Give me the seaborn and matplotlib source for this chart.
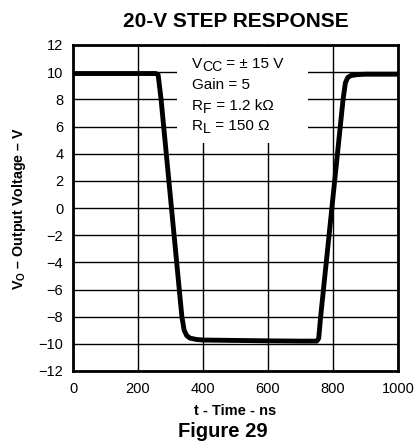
import numpy as np
import pandas as pd
import seaborn as sns
import matplotlib
matplotlib.use("Agg")
import matplotlib.pyplot as plt
from matplotlib.patches import Rectangle
from matplotlib.font_manager import FontProperties

# Data
time_ns = [0, 255, 262, 271, 335, 342, 350, 360, 380, 400, 500, 600, 700, 750,
           756, 762, 831, 838, 845, 855, 875, 900, 1000]
vout = [9.9, 9.9, 9.8, 8.0, -8.0, -9.0, -9.4, -9.58, -9.68, -9.72, -9.75, -9.78,
        -9.8, -9.8, -9.6, -8.0, 8.0, 9.2, 9.6, 9.75, 9.82, 9.85, 9.85]
x_ticks = [0, 200, 400, 600, 800, 1000]
y_ticks = [12, 10, 8, 6, 4, 2, 0, -2, -4, -6, -8, -10, -12]
y_tick_labels = ["12", "10", "8", "6", "4", "2", "0", "\u22122", "\u22124", "\u22126",
                 "\u22128", "\u221210", "\u221212"]
title = "20-V STEP RESPONSE"
xlabel = "t - Time - ns"
ylabel = "$\\mathbf{V_O}$ \u2013 Output Voltage \u2013 V"
caption = "Figure 29"
annot_rows = [
    [("V", False), ("CC", True), (" = \u00b1 15 V", False)],
    [("Gain = 5", False)],
    [("R", False), ("F", True), (" = 1.2 k\u03a9", False)],
    [("R", False), ("L", True), (" = 150 \u03a9", False)],
]

sns.set_theme(style="white")
plt.rcParams['font.family'] = ['Liberation Sans', 'DejaVu Sans']
plt.rcParams['mathtext.fontset'] = 'custom'
plt.rcParams['mathtext.rm'] = 'Liberation Sans'
plt.rcParams['mathtext.bf'] = 'Liberation Sans:bold'
plt.rcParams['text.color'] = 'black'
plt.rcParams['axes.labelcolor'] = 'black'
plt.rcParams['xtick.color'] = 'black'
plt.rcParams['ytick.color'] = 'black'

W, H = 416, 445
fig = plt.figure(figsize=(W / 100, H / 100), dpi=100)
ax_l, ax_r, ax_t, ax_b = 73, 398, 45, 371
ax = fig.add_axes([ax_l / W, (H - ax_b) / H, (ax_r - ax_l) / W, (ax_b - ax_t) / H])

df = pd.DataFrame({"t": time_ns, "v": vout})
sns.lineplot(data=df, x="t", y="v", ax=ax, color="black", linewidth=3.5,
             sort=False, zorder=5, solid_joinstyle="round", solid_capstyle="round")

ax.set_xlim(0, 1000)
ax.set_ylim(-12, 12)
ax.set_xticks(x_ticks)
ax.set_xticklabels([str(v) for v in x_ticks])
ax.set_yticks(y_ticks)
ax.set_yticklabels(y_tick_labels)
ax.grid(True, color="black", linewidth=1.0)
ax.tick_params(axis="x", length=0, labelsize=10.5, colors="black", pad=8)
ax.tick_params(axis="y", length=0, labelsize=10.5, colors="black", pad=7)
for s in ax.spines.values():
    s.set_color("black")
    s.set_linewidth(2.0)
    s.set_zorder(10)

# white box behind the annotation (hides grid lines)
ax.add_patch(Rectangle((320, 4.75), 403, 7.1, facecolor="white", edgecolor="none", zorder=3))

renderer = fig.canvas.get_renderer()


def text_width(s, size, weight="normal"):
    fp = FontProperties(family=["Liberation Sans", "DejaVu Sans"], size=size, weight=weight)
    w, h, d = renderer.get_text_width_height_descent(s, fp, ismath=False)
    return w


def draw_row(parts, x0, y0, size, sub_scale=0.92, sub_shift=3):
    # x0, y0 in pixels from bottom-left; pieces laid along the baseline
    pos = 0.0
    for s, sub in parts:
        sz = size * (sub_scale if sub else 1.0)
        shift = sub_shift if sub else 0
        fig.text((x0 + pos) / W, (y0 - shift) / H, s, fontsize=sz, ha="left",
                 va="baseline", color="black", zorder=6)
        pos += text_width(s, sz)


# annotation block
baselines = [68, 89, 110, 130]
for row, b in zip(annot_rows, baselines):
    draw_row(row, 192, H - b, 11)

ax.set_ylabel(ylabel, fontsize=10.3, fontweight="bold", color="black")
ax.yaxis.set_label_coords(-(ax_l - 28) / (ax_r - ax_l), 0.5)

ax.set_xlabel(xlabel, fontsize=10.5, fontweight="bold", color="black")
ax.xaxis.set_label_coords(0.5, -(404 - ax_b) / (ax_b - ax_t))
ax.xaxis.label.set_verticalalignment("top")

ax.set_title(title, fontsize=15, fontweight="bold", pad=13, color="black")
fig.text(223 / W, 8 / H, caption, fontsize=14.5, fontweight="bold", ha="center",
         va="baseline", color="black")

fig.savefig("out.png", dpi=100)
